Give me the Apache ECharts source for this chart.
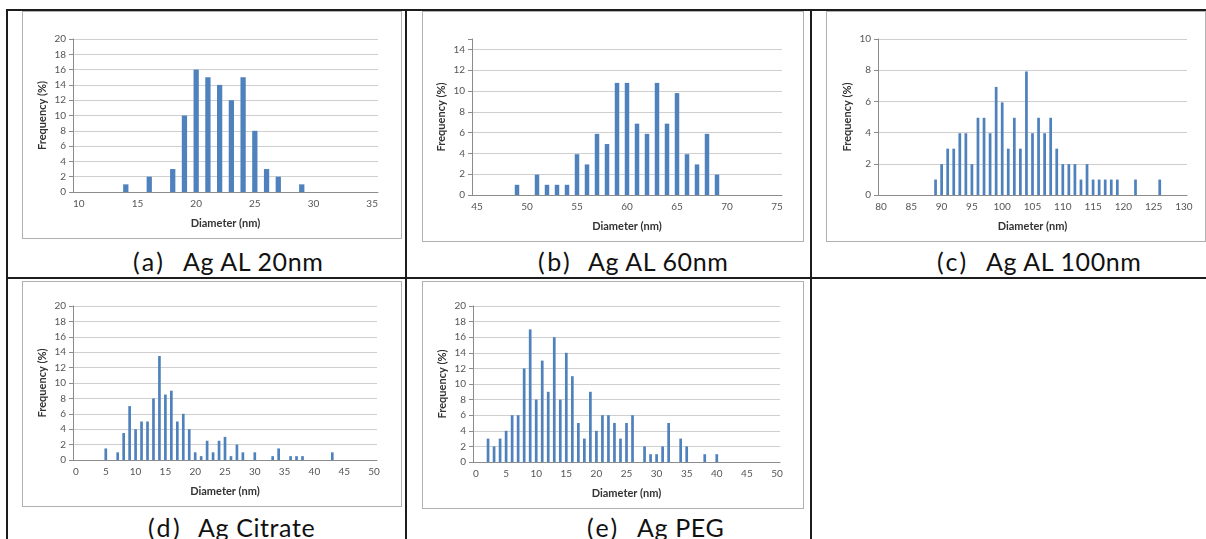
<!DOCTYPE html>
<html>
<head>
<meta charset="utf-8">
<script src="https://cdn.jsdelivr.net/npm/echarts@6/dist/echarts.min.js"></script>
<style>
body { margin: 0; width: 1206px; height: 539px; background: #fff; position: relative; overflow: hidden; font-family: Lato, sans-serif; }
.hl, .vl { position: absolute; background: #1c1c1c; }
.box { position: absolute; border: 1px solid #b0b0b0; box-sizing: border-box; background: #fff; }
.cap { position: absolute; font-size: 25px; letter-spacing: 0.6px; color: #111; white-space: pre; line-height: 1; }
.num { letter-spacing: 2.5px; }
</style>
</head>
<body>
<!-- table lines -->
<div class="hl" style="left:7px;top:9px;width:1199px;height:2px"></div>
<div class="hl" style="left:7px;top:277px;width:1199px;height:2px"></div>
<div class="vl" style="left:6px;top:9px;width:2px;height:530px"></div>
<div class="vl" style="left:405px;top:9px;width:2px;height:530px"></div>
<div class="vl" style="left:810px;top:9px;width:2px;height:530px"></div>

<div id="chartA" class="box" style="left:22px;top:11px;width:380px;height:228px"></div>
<div id="chartB" class="box" style="left:422px;top:11px;width:382px;height:231px"></div>
<div id="chartC" class="box" style="left:826px;top:11px;width:380px;height:231px"></div>
<div id="chartD" class="box" style="left:22px;top:281px;width:380px;height:226px"></div>
<div id="chartE" class="box" style="left:422px;top:281px;width:382px;height:228px"></div>

<div class="cap num" style="left:133px;top:249px">(a)</div>
<div class="cap" style="left:183px;top:249px">Ag AL 20nm</div>
<div class="cap num" style="left:538px;top:249px">(b)</div>
<div class="cap" style="left:588px;top:249px">Ag AL 60nm</div>
<div class="cap num" style="left:937px;top:249px">(c)</div>
<div class="cap" style="left:986px;top:249px">Ag AL 100nm</div>
<div class="cap num" style="left:148px;top:515px">(d)</div>
<div class="cap" style="left:198px;top:515px">Ag Citrate</div>
<div class="cap num" style="left:587px;top:515px">(e)</div>
<div class="cap" style="left:637px;top:515px">Ag PEG</div>

<script>
// (a) Ag AL 20nm
const diamA = [14, 16, 18, 19, 20, 21, 22, 23, 24, 25, 26, 27, 29]
const freqA = [1, 2, 3, 10, 16, 15, 14, 12, 15, 8, 3, 2, 1]
// (b) Ag AL 60nm
const diamB = [49, 51, 52, 53, 54, 55, 56, 57, 58, 59, 60, 61, 62, 63, 64, 65, 66, 67, 68, 69]
const freqB = [0.98, 1.96, 0.98, 0.98, 0.98, 3.92, 2.94, 5.88, 4.9, 10.78, 10.78, 6.86, 5.88, 10.78, 6.86, 9.8, 3.92, 2.94, 5.88, 1.96]
// (c) Ag AL 100nm
const diamC = [89, 90, 91, 92, 93, 94, 95, 96, 97, 98, 99, 100, 101, 102, 103, 104, 105, 106, 107, 108, 109, 110, 111, 112, 113, 114, 115, 116, 117, 118, 119, 122, 126]
const freqC = [0.99, 1.98, 2.97, 2.97, 3.96, 3.96, 1.98, 4.95, 4.95, 3.96, 6.93, 5.94, 2.97, 4.95, 2.97, 7.92, 3.96, 4.95, 3.96, 4.95, 2.97, 1.98, 1.98, 1.98, 0.99, 1.98, 0.99, 0.99, 0.99, 0.99, 0.99, 0.99, 0.99]
// (d) Ag Citrate
const diamD = [5, 7, 8, 9, 10, 11, 12, 13, 14, 15, 16, 17, 18, 19, 20, 21, 22, 23, 24, 25, 26, 27, 28, 30, 33, 34, 36, 37, 38, 43]
const freqD = [1.5, 1, 3.5, 7, 4, 5, 5, 8, 13.5, 8.5, 9, 5, 6, 4, 1, 0.5, 2.5, 1, 2.5, 3, 0.5, 2, 1, 1, 0.5, 1.5, 0.5, 0.5, 0.5, 1]
// (e) Ag PEG
const diamE = [2, 3, 4, 5, 6, 7, 8, 9, 10, 11, 12, 13, 14, 15, 16, 17, 18, 19, 20, 21, 22, 23, 24, 25, 26, 28, 29, 30, 31, 32, 34, 35, 38, 40]
const freqE = [3, 2, 3, 4, 6, 6, 12, 17, 8, 13, 9, 16, 8, 14, 11, 5, 3, 9, 4, 6, 6, 5, 3, 5, 6, 2, 1, 1, 2, 5, 3, 2, 1, 1]

// x axis range (diameter, nm) and y axis top (%)
const rangeA = [10, 35], yMaxA = 20
const rangeB = [45, 75], yMaxB = 15
const rangeC = [80, 130], yMaxC = 10
const rangeD = [0, 50], yMaxD = 20
const rangeE = [0, 50], yMaxE = 20

const axisGrey = '#8c8c8c'
const gridGrey = '#cfcfcf'
const labelStyle = { fontFamily: 'Lato', fontSize: 10, color: '#555' }
const titleStyle = { fontFamily: 'Lato', fontSize: 11, fontWeight: 'bold', color: '#333' }

function drawHist(id, diam, freq, range, yMax, grid) {
  const cats = []
  for (let d = range[0]; d <= range[1]; d++) cats.push(String(d))
  // gridline colours: hide the top line when max is not on a major tick
  const nLines = Math.floor(yMax / 2) + 1
  const lineColors = []
  for (let i = 0; i < nLines; i++) lineColors.push(gridGrey)
  if (yMax % 2) lineColors.push('rgba(0,0,0,0)')

  const myChart = echarts.init(document.getElementById(id))
  myChart.setOption({
    animation: false,
    grid: grid,
    xAxis: {
      type: 'category',
      data: cats,
      boundaryGap: true,
      name: 'Diameter (nm)',
      nameLocation: 'middle',
      nameGap: 26,
      nameTextStyle: titleStyle,
      axisLine: { lineStyle: { color: axisGrey, width: 1 } },
      axisTick: { interval: 4, length: 4, lineStyle: { color: axisGrey } },
      axisLabel: Object.assign({ interval: 4, margin: 7 }, labelStyle),
      splitLine: { show: false }
    },
    yAxis: {
      type: 'value',
      min: 0,
      max: yMax,
      interval: 2,
      name: 'Frequency (%)',
      nameLocation: 'middle',
      nameGap: 25,
      nameMoveOverlap: false,
      nameTextStyle: titleStyle,
      axisLine: { show: true, lineStyle: { color: axisGrey, width: 1 } },
      axisTick: { show: true, length: 4, lineStyle: { color: axisGrey } },
      axisLabel: Object.assign({
        margin: 7,
        formatter: (v) => (v % 2 === 0 ? String(v) : '')
      }, labelStyle),
      splitLine: { show: true, lineStyle: { color: lineColors, width: 1 } }
    },
    series: [
      {
        type: 'bar',
        data: diam.map((d, i) => [String(d), freq[i]]),
        barWidth: '45%',
        itemStyle: { color: '#4f81bd' }
      }
    ]
  })
}

drawHist('chartA', diamA, freqA, rangeA, yMaxA, { left: 50, right: 23, top: 27, bottom: 46 })
drawHist('chartB', diamB, freqB, rangeB, yMaxB, { left: 49, right: 21, top: 27, bottom: 46 })
drawHist('chartC', diamC, freqC, rangeC, yMaxC, { left: 51, right: 18, top: 27, bottom: 46 })
drawHist('chartD', diamD, freqD, rangeD, yMaxD, { left: 50, right: 24, top: 24, bottom: 46 })
drawHist('chartE', diamE, freqE, rangeE, yMaxE, { left: 50, right: 23, top: 24, bottom: 46 })
</script>
</body>
</html>
